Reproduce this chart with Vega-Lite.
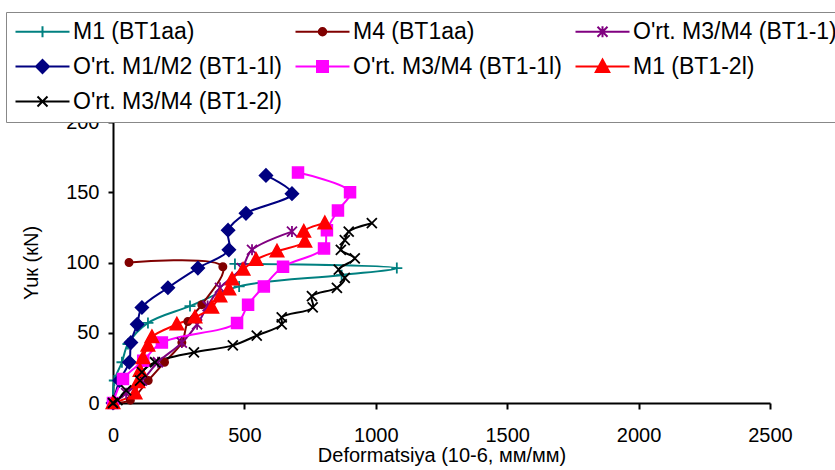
{
  "$schema": "https://vega.github.io/schema/vega-lite/v6.json",
  "width": 657,
  "height": 281,
  "autosize": "none",
  "padding": {"left": 113, "top": 122, "right": 65, "bottom": 67},
  "background": "white",
  "config": {
    "view": {"stroke": null},
    "font": "Liberation Sans",
    "axis": {
      "grid": false,
      "domainColor": "black",
      "domainWidth": 2,
      "tickColor": "black",
      "tickWidth": 2,
      "labelFont": "Liberation Sans",
      "labelFontSize": 20,
      "labelColor": "black",
      "titleFont": "Liberation Sans",
      "titleFontSize": 20,
      "titleFontWeight": "normal",
      "titleColor": "black",
      "labelFlush": false,
      "labelOverlap": false
    }
  },
  "data": {"values": [
    {"s": "M1  (BT1aa)", "i": 0, "x": 0, "y": 0},
    {"s": "M1  (BT1aa)", "i": 1, "x": 5, "y": 16},
    {"s": "M1  (BT1aa)", "i": 2, "x": 34, "y": 29},
    {"s": "M1  (BT1aa)", "i": 3, "x": 57, "y": 42},
    {"s": "M1  (BT1aa)", "i": 4, "x": 133, "y": 57},
    {"s": "M1  (BT1aa)", "i": 5, "x": 293, "y": 69},
    {"s": "M1  (BT1aa)", "i": 6, "x": 480, "y": 83},
    {"s": "M1  (BT1aa)", "i": 7, "x": 870, "y": 91},
    {"s": "M1  (BT1aa)", "i": 8, "x": 1080, "y": 96},
    {"s": "M1  (BT1aa)", "i": 9, "x": 464, "y": 99},

    {"s": "M4 (BT1aa)", "i": 0, "x": 0, "y": 0},
    {"s": "M4 (BT1aa)", "i": 1, "x": 66, "y": 2},
    {"s": "M4 (BT1aa)", "i": 2, "x": 134, "y": 16},
    {"s": "M4 (BT1aa)", "i": 3, "x": 196, "y": 29},
    {"s": "M4 (BT1aa)", "i": 4, "x": 262, "y": 43},
    {"s": "M4 (BT1aa)", "i": 5, "x": 285, "y": 58},
    {"s": "M4 (BT1aa)", "i": 6, "x": 338, "y": 70},
    {"s": "M4 (BT1aa)", "i": 7, "x": 418, "y": 97},
    {"s": "M4 (BT1aa)", "i": 8, "x": 61, "y": 100},

    {"s": "O'rt. M3/M4 (BT1-1)", "i": 0, "x": 0, "y": 0},
    {"s": "O'rt. M3/M4 (BT1-1)", "i": 1, "x": 50, "y": 7},
    {"s": "O'rt. M3/M4 (BT1-1)", "i": 2, "x": 110, "y": 16},
    {"s": "O'rt. M3/M4 (BT1-1)", "i": 3, "x": 171, "y": 29},
    {"s": "O'rt. M3/M4 (BT1-1)", "i": 4, "x": 262, "y": 43},
    {"s": "O'rt. M3/M4 (BT1-1)", "i": 5, "x": 320, "y": 56},
    {"s": "O'rt. M3/M4 (BT1-1)", "i": 6, "x": 360, "y": 69},
    {"s": "O'rt. M3/M4 (BT1-1)", "i": 7, "x": 407, "y": 82},
    {"s": "O'rt. M3/M4 (BT1-1)", "i": 8, "x": 490, "y": 96},
    {"s": "O'rt. M3/M4 (BT1-1)", "i": 9, "x": 529, "y": 109},
    {"s": "O'rt. M3/M4 (BT1-1)", "i": 10, "x": 681, "y": 122},

    {"s": "O'rt. M1/M2 (BT1-1l)", "i": 0, "x": 0, "y": 0},
    {"s": "O'rt. M1/M2 (BT1-1l)", "i": 1, "x": 25, "y": 16},
    {"s": "O'rt. M1/M2 (BT1-1l)", "i": 2, "x": 62, "y": 29},
    {"s": "O'rt. M1/M2 (BT1-1l)", "i": 3, "x": 68, "y": 43},
    {"s": "O'rt. M1/M2 (BT1-1l)", "i": 4, "x": 92, "y": 56},
    {"s": "O'rt. M1/M2 (BT1-1l)", "i": 5, "x": 110, "y": 68},
    {"s": "O'rt. M1/M2 (BT1-1l)", "i": 6, "x": 209, "y": 82},
    {"s": "O'rt. M1/M2 (BT1-1l)", "i": 7, "x": 323, "y": 96},
    {"s": "O'rt. M1/M2 (BT1-1l)", "i": 8, "x": 441, "y": 109},
    {"s": "O'rt. M1/M2 (BT1-1l)", "i": 9, "x": 438, "y": 123},
    {"s": "O'rt. M1/M2 (BT1-1l)", "i": 10, "x": 506, "y": 135},
    {"s": "O'rt. M1/M2 (BT1-1l)", "i": 11, "x": 681, "y": 149},
    {"s": "O'rt. M1/M2 (BT1-1l)", "i": 12, "x": 582, "y": 162},

    {"s": "O'rt. M3/M4 (BT1-1l)", "i": 0, "x": 0, "y": 0},
    {"s": "O'rt. M3/M4 (BT1-1l)", "i": 1, "x": 38, "y": 17},
    {"s": "O'rt. M3/M4 (BT1-1l)", "i": 2, "x": 115, "y": 30},
    {"s": "O'rt. M3/M4 (BT1-1l)", "i": 3, "x": 186, "y": 43},
    {"s": "O'rt. M3/M4 (BT1-1l)", "i": 4, "x": 472, "y": 57},
    {"s": "O'rt. M3/M4 (BT1-1l)", "i": 5, "x": 514, "y": 70},
    {"s": "O'rt. M3/M4 (BT1-1l)", "i": 6, "x": 574, "y": 83},
    {"s": "O'rt. M3/M4 (BT1-1l)", "i": 7, "x": 647, "y": 97},
    {"s": "O'rt. M3/M4 (BT1-1l)", "i": 8, "x": 803, "y": 110},
    {"s": "O'rt. M3/M4 (BT1-1l)", "i": 9, "x": 814, "y": 123},
    {"s": "O'rt. M3/M4 (BT1-1l)", "i": 10, "x": 856, "y": 137},
    {"s": "O'rt. M3/M4 (BT1-1l)", "i": 11, "x": 902, "y": 150},
    {"s": "O'rt. M3/M4 (BT1-1l)", "i": 12, "x": 704, "y": 164},

    {"s": "M1 (BT1-2l)", "i": 0, "x": 0, "y": 0},
    {"s": "M1 (BT1-2l)", "i": 1, "x": 84, "y": 7},
    {"s": "M1 (BT1-2l)", "i": 2, "x": 95, "y": 15},
    {"s": "M1 (BT1-2l)", "i": 3, "x": 103, "y": 23},
    {"s": "M1 (BT1-2l)", "i": 4, "x": 114, "y": 32},
    {"s": "M1 (BT1-2l)", "i": 5, "x": 133, "y": 41},
    {"s": "M1 (BT1-2l)", "i": 6, "x": 148, "y": 47},
    {"s": "M1 (BT1-2l)", "i": 7, "x": 243, "y": 56},
    {"s": "M1 (BT1-2l)", "i": 8, "x": 312, "y": 61},
    {"s": "M1 (BT1-2l)", "i": 9, "x": 376, "y": 68},
    {"s": "M1 (BT1-2l)", "i": 10, "x": 407, "y": 76},
    {"s": "M1 (BT1-2l)", "i": 11, "x": 441, "y": 81},
    {"s": "M1 (BT1-2l)", "i": 12, "x": 453, "y": 88},
    {"s": "M1 (BT1-2l)", "i": 13, "x": 495, "y": 95},
    {"s": "M1 (BT1-2l)", "i": 14, "x": 544, "y": 102},
    {"s": "M1 (BT1-2l)", "i": 15, "x": 624, "y": 108},
    {"s": "M1 (BT1-2l)", "i": 16, "x": 730, "y": 115},
    {"s": "M1 (BT1-2l)", "i": 17, "x": 726, "y": 122},
    {"s": "M1 (BT1-2l)", "i": 18, "x": 806, "y": 128},

    {"s": "O'rt. M3/M4 (BT1-2l)", "i": 0, "x": 0, "y": 0},
    {"s": "O'rt. M3/M4 (BT1-2l)", "i": 1, "x": 17, "y": 2},
    {"s": "O'rt. M3/M4 (BT1-2l)", "i": 2, "x": 50, "y": 9},
    {"s": "O'rt. M3/M4 (BT1-2l)", "i": 3, "x": 103, "y": 16},
    {"s": "O'rt. M3/M4 (BT1-2l)", "i": 4, "x": 110, "y": 22},
    {"s": "O'rt. M3/M4 (BT1-2l)", "i": 5, "x": 160, "y": 29},
    {"s": "O'rt. M3/M4 (BT1-2l)", "i": 6, "x": 308, "y": 36},
    {"s": "O'rt. M3/M4 (BT1-2l)", "i": 7, "x": 456, "y": 41},
    {"s": "O'rt. M3/M4 (BT1-2l)", "i": 8, "x": 547, "y": 48},
    {"s": "O'rt. M3/M4 (BT1-2l)", "i": 9, "x": 642, "y": 56},
    {"s": "O'rt. M3/M4 (BT1-2l)", "i": 10, "x": 642, "y": 61},
    {"s": "O'rt. M3/M4 (BT1-2l)", "i": 11, "x": 760, "y": 68},
    {"s": "O'rt. M3/M4 (BT1-2l)", "i": 12, "x": 757, "y": 76},
    {"s": "O'rt. M3/M4 (BT1-2l)", "i": 13, "x": 852, "y": 82},
    {"s": "O'rt. M3/M4 (BT1-2l)", "i": 14, "x": 882, "y": 89},
    {"s": "O'rt. M3/M4 (BT1-2l)", "i": 15, "x": 859, "y": 95},
    {"s": "O'rt. M3/M4 (BT1-2l)", "i": 16, "x": 920, "y": 103},
    {"s": "O'rt. M3/M4 (BT1-2l)", "i": 17, "x": 867, "y": 109},
    {"s": "O'rt. M3/M4 (BT1-2l)", "i": 18, "x": 882, "y": 116},
    {"s": "O'rt. M3/M4 (BT1-2l)", "i": 19, "x": 897, "y": 122},
    {"s": "O'rt. M3/M4 (BT1-2l)", "i": 20, "x": 985, "y": 128}
  ]},
  "encoding": {
    "x": {
      "field": "x", "type": "quantitative",
      "scale": {"domain": [0, 2500], "nice": false},
      "axis": {"values": [0, 500, 1000, 1500, 2000, 2500], "labelExpr": "'' + datum.value", "tickSize": 6, "labelPadding": 16, "title": "Deformatsiya (10-6, мм/мм)", "titlePadding": 0}
    },
    "y": {
      "field": "y", "type": "quantitative",
      "scale": {"domain": [0, 200], "nice": false},
      "axis": {"values": [0, 50, 100, 150, 200], "tickSize": 5, "labelPadding": 9, "title": "Yuк (кN)", "titlePadding": 24}
    }
  },
  "layer": [
    {
      "mark": {"type": "line", "interpolate": "catmull-rom", "strokeWidth": 2},
      "encoding": {
        "order": {"field": "i", "type": "quantitative"},
        "color": {
          "field": "s", "type": "nominal",
          "scale": {
            "domain": ["M1  (BT1aa)", "O'rt. M1/M2 (BT1-1l)", "M1 (BT1-2l)", "M4 (BT1aa)", "O'rt. M3/M4 (BT1-1l)", "O'rt. M3/M4 (BT1-2l)", "O'rt. M3/M4 (BT1-1)"],
            "range": ["#008080", "#000080", "#FF0000", "#800000", "#FF00FF", "#000000", "#800080"]
          },
          "legend": {
            "orient": "none",
            "legendX": -107,
            "legendY": -110,
            "columns": 3,
            "title": null,
            "labelFont": "Liberation Sans",
            "labelFontSize": 23,
            "labelColor": "black",
            "labelLimit": 500,
            "columnPadding": 9,
            "rowPadding": 11,
            "padding": 8,
            "fillColor": "white",
            "strokeColor": "#888888",
            "symbolSize": 100,
            "symbolOffset": 17,
            "labelOffset": 19,
            "symbolStrokeWidth": 2,
            "symbolOpacity": 1
          }
        }
      }
    },
    {
      "transform": [{"filter": {"field": "i", "lt": 0}}],
      "mark": {"type": "point", "size": 100, "strokeWidth": 2, "opacity": 1},
      "encoding": {
        "shape": {
          "field": "s", "type": "nominal",
          "scale": {
            "domain": ["M1  (BT1aa)", "O'rt. M1/M2 (BT1-1l)", "M1 (BT1-2l)", "M4 (BT1aa)", "O'rt. M3/M4 (BT1-1l)", "O'rt. M3/M4 (BT1-2l)", "O'rt. M3/M4 (BT1-1)"],
            "range": [
              "M-5.4,0H5.4M0,-1.1V1.1",
              "M-5.4,0H5.4M0,-1.3L1.3,0L0,1.3L-1.3,0Z",
              "M-5.4,0H5.4M0,-1.4L1.35,1.1H-1.35Z",
              "M-5.4,0H5.4M0.75,0A0.75,0.75,0,1,1,-0.75,0A0.75,0.75,0,1,1,0.75,0Z",
              "M-5.4,0H5.4M-1.1,-1.1H1.1V1.1H-1.1Z",
              "M-5.4,0H5.4M-1,-1L1,1M-1,1L1,-1",
              "M-5.4,0H5.4M-1,-1L1,1M-1,1L1,-1M0,-1.1V1.1"
            ]
          },
          "legend": null
        },
        "fill": {
          "field": "s", "type": "nominal",
          "scale": {
            "domain": ["M1  (BT1aa)", "O'rt. M1/M2 (BT1-1l)", "M1 (BT1-2l)", "M4 (BT1aa)", "O'rt. M3/M4 (BT1-1l)", "O'rt. M3/M4 (BT1-2l)", "O'rt. M3/M4 (BT1-1)"],
            "range": ["#008080", "#000080", "#FF0000", "#800000", "#FF00FF", "#000000", "#800080"]
          },
          "legend": null
        },
        "stroke": {
          "field": "s", "type": "nominal",
          "scale": {
            "domain": ["M1  (BT1aa)", "O'rt. M1/M2 (BT1-1l)", "M1 (BT1-2l)", "M4 (BT1aa)", "O'rt. M3/M4 (BT1-1l)", "O'rt. M3/M4 (BT1-2l)", "O'rt. M3/M4 (BT1-1)"],
            "range": ["#008080", "#000080", "#FF0000", "#800000", "#FF00FF", "#000000", "#800080"]
          },
          "legend": null
        }
      }
    },
    {
      "transform": [{"filter": {"field": "s", "equal": "M1  (BT1aa)"}}],
      "mark": {"type": "point", "size": 100, "strokeWidth": 1.8, "opacity": 1, "filled": true, "shape": "M-1.1,0H1.1M0,-1.1V1.1", "fill": "#008080", "stroke": "#008080"}
    },
    {
      "transform": [{"filter": {"field": "s", "equal": "M4 (BT1aa)"}}],
      "mark": {"type": "point", "size": 100, "strokeWidth": 1.5, "opacity": 1, "filled": true, "shape": "M0.75,0A0.75,0.75,0,1,1,-0.75,0A0.75,0.75,0,1,1,0.75,0Z", "fill": "#800000", "stroke": "#800000"}
    },
    {
      "transform": [{"filter": {"field": "s", "equal": "O'rt. M3/M4 (BT1-1)"}}],
      "mark": {"type": "point", "size": 100, "strokeWidth": 1.8, "opacity": 1, "filled": true, "shape": "M-1,-1L1,1M-1,1L1,-1M0,-1.1V1.1", "fill": "#800080", "stroke": "#800080"}
    },
    {
      "transform": [{"filter": {"field": "s", "equal": "O'rt. M1/M2 (BT1-1l)"}}],
      "mark": {"type": "point", "size": 100, "strokeWidth": 1.5, "opacity": 1, "filled": true, "shape": "M0,-1.3L1.3,0L0,1.3L-1.3,0Z", "fill": "#000080", "stroke": "#000080"}
    },
    {
      "transform": [{"filter": {"field": "s", "equal": "O'rt. M3/M4 (BT1-1l)"}}],
      "mark": {"type": "point", "size": 100, "strokeWidth": 1.5, "opacity": 1, "filled": true, "shape": "M-1.1,-1.1H1.1V1.1H-1.1Z", "fill": "#FF00FF", "stroke": "#FF00FF"}
    },
    {
      "transform": [{"filter": {"field": "s", "equal": "M1 (BT1-2l)"}}],
      "mark": {"type": "point", "size": 100, "strokeWidth": 1.5, "opacity": 1, "filled": true, "shape": "M0,-1.4L1.35,1.1H-1.35Z", "fill": "#FF0000", "stroke": "#FF0000"}
    },
    {
      "transform": [{"filter": {"field": "s", "equal": "O'rt. M3/M4 (BT1-2l)"}}],
      "mark": {"type": "point", "size": 100, "strokeWidth": 1.8, "opacity": 1, "filled": true, "shape": "M-1,-1L1,1M-1,1L1,-1", "fill": "#000000", "stroke": "#000000"}
    }
  ]
}
